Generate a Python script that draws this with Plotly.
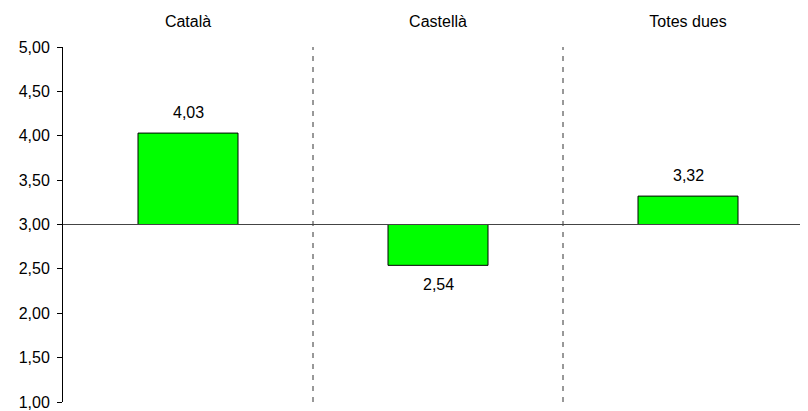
import plotly.graph_objects as go

# Dades
categories = ['Català', 'Castellà', 'Totes dues']
valors = [4.03, 2.54, 3.32]
base = 3.0
y_ticks = [1.0, 1.5, 2.0, 2.5, 3.0, 3.5, 4.0, 4.5, 5.0]

FONT = 'Liberation Sans, Arial'

fig = go.Figure()

fig.add_trace(go.Bar(
    x=categories,
    y=[v - base for v in valors],
    base=base,
    width=0.4,
    marker=dict(color='#00FF00', line=dict(color='black', width=1)),
    hoverinfo='skip'
))

# Etiquetes de valor
for cat, v in zip(categories, valors):
    fig.add_annotation(
        x=cat, y=v, xref='x', yref='y',
        text=f'{v:.2f}'.replace('.', ','),
        showarrow=False, yanchor='middle',
        yshift=21 if v >= base else -19,
        font=dict(family=FONT, size=16, color='black')
    )

# Línies discontínues entre categories
for xs in [0.5, 1.5]:
    fig.add_shape(type='line', xref='x', yref='paper', x0=xs, x1=xs, y0=0, y1=1,
                  line=dict(color='#333333', width=1, dash='5px,6px'))

# Línia horitzontal a 3,00
fig.add_shape(type='line', xref='paper', yref='y', x0=0, x1=1, y0=base, y1=base,
              line=dict(color='#444444', width=1))

# la pàgina té un marge de 8px al body
fig.update_layout(
    width=800, height=403,
    margin=dict(l=55, r=0, t=39, b=9),
    plot_bgcolor='white', paper_bgcolor='white',
    separators=',.',
    showlegend=False,
    font=dict(family=FONT, size=16, color='black'),
    xaxis=dict(side='top', showline=False, showgrid=False, ticks='',
               range=[-0.5, 2.48], automargin=False, ticklabelstandoff=16,
               tickfont=dict(size=16)),
    yaxis=dict(range=[1, 5], tickvals=y_ticks, tickformat='.2f',
               showgrid=False, zeroline=False, showline=True,
               linecolor='black', linewidth=1, ticks='outside',
               ticklen=5, tickcolor='black', automargin=False,
               ticklabelstandoff=4, ticklabeloverflow='allow',
               tickfont=dict(size=16)),
)

fig.write_html('out.html')
